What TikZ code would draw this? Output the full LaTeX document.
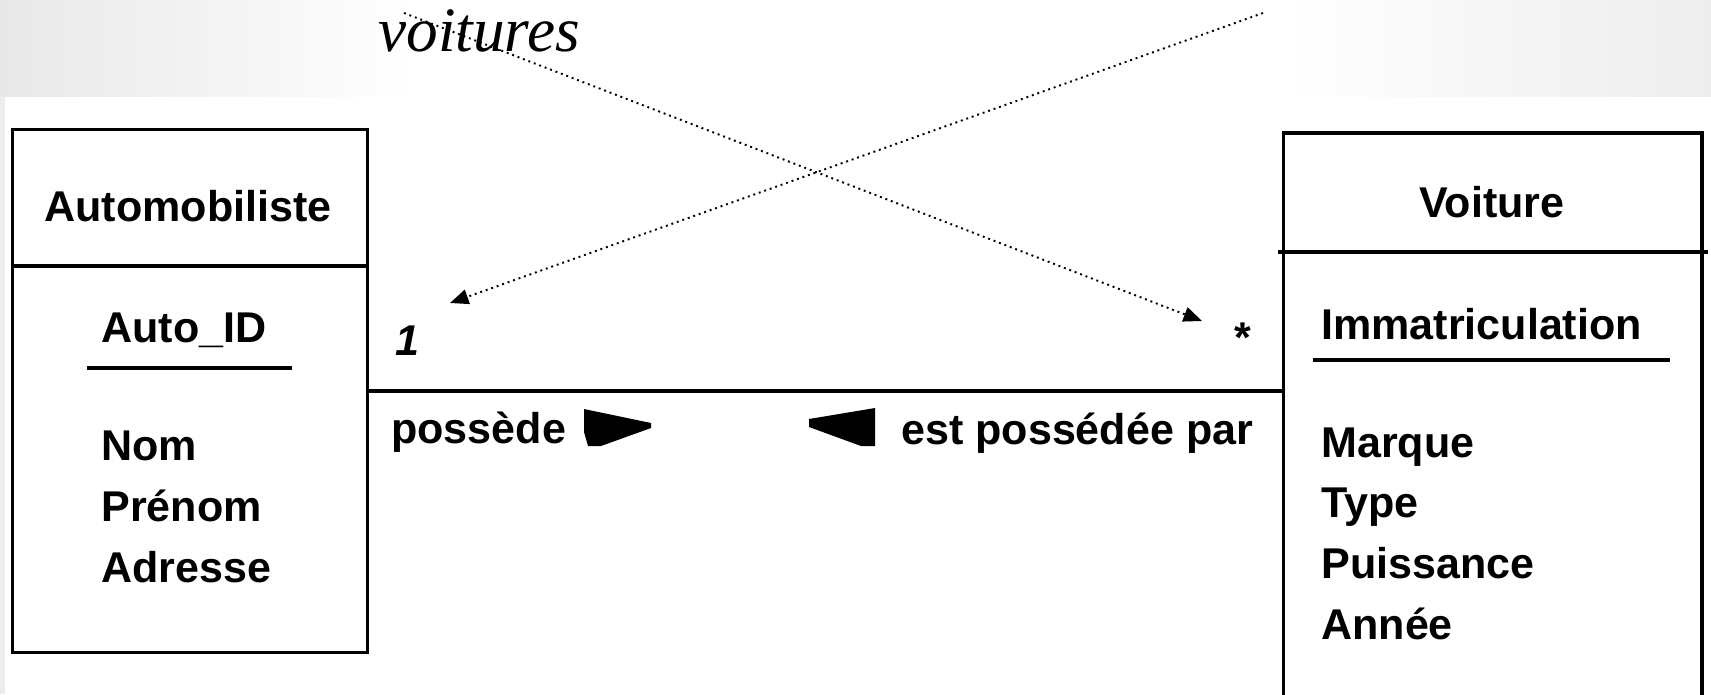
\documentclass[tikz,border=0pt]{standalone}
\usepackage{fontspec}
\setsansfont{Liberation Sans}
\newfontfamily\slidefont{Liberation Serif}
\usetikzlibrary{arrows.meta}

\begin{document}
\begin{tikzpicture}[
  x=0.02cm, y=-0.02cm,
  txt/.style={font=\sffamily\bfseries\fontsize{24.5pt}{29pt}\selectfont, inner sep=0pt},
  attr/.style={txt, anchor=base west},
  classbox/.style={rectangle, draw=black, line width=2.1pt, fill=white, inner sep=0pt},
  assoc/.style={draw=black, line width=2.1pt},
  note/.style={-{Triangle[length=10.5pt,width=8.5pt]}, line width=1.1pt,
               dash pattern=on 1.1pt off 2.2pt}
]
% slide background
\useasboundingbox (0,0) rectangle (1711,694);
\clip (0,0) rectangle (1711,694);
\fill[white] (0,0) rectangle (1711,694);
\shade[left color=black!9, right color=white] (0,0) rectangle (420,96);
\shade[left color=white, right color=black!7] (1280,0) rectangle (1711,96);
\fill[black!7] (0,96) rectangle (5,694);

% classes
\node[classbox, minimum width=7.1cm, minimum height=10.46cm] (auto) at (190,391) {};
\node[classbox, minimum width=8.37cm, minimum height=12.54cm] (voit) at (1492.75,446.5) {};
\draw[assoc] ([yshift=-2.77cm]auto.north west) -- ([yshift=-2.77cm]auto.north east);
\draw[assoc] ([shift={(-0.08cm,-2.42cm)}]voit.north west) -- ([shift={(0.08cm,-2.42cm)}]voit.north east);

% left class
\node[txt, anchor=base] (autot) at (188,221) {Automobiliste};
\node[attr] (autoid) at (101,342) {Auto\_ID};
\draw[line width=2pt] (87,368) -- (292,368);
\foreach \a [count=\i from 0] in {Nom, Prénom, Adresse}
  \node[attr] (auta\i) at (101, 460.5+61*\i) {\a};

% right class
\node[txt, anchor=base] (voitt) at (1492,217) {Voiture};
\node[attr] (immat) at (1321,339) {Immatriculation};
\draw[line width=2pt] (1313,360) -- (1670,360);
\foreach \a [count=\i from 0] in {Marque, Type, Puissance, Année}
  \node[attr] (voita\i) at (1321, 457+60.8*\i) {\a};

% association
\draw[assoc] (auto.east) -- (auto.east -| voit.west);
\node[attr] (mult1) at (395,355) {\itshape 1};
\node[attr] (multn) at (1234,352) {*};
\node[attr] (role1) at (391,443) {possède};
\node[attr] (role2) at (901,444) {est possédée par};
\fill (584,409) -- (651,423) -- (651,428) -- (601,446) -- (588,446) -- (584,432) -- cycle;
\fill (809,419) -- (875,408) -- (875,446) -- (861,446) -- (809,427) -- cycle;

% annotation
\node[font=\slidefont\itshape\fontsize{36pt}{40pt}\selectfont, anchor=base west,
      inner sep=0pt] (lbl) at (378,51) {voitures};
\coordinate (n1s) at (404,13);
\coordinate (n1e) at (1202,321);
\coordinate (n2s) at (1263,13);
\coordinate (n2e) at (450,303);
\draw[note] (n1s) -- (n1e);
\draw[note] (n2s) -- (n2e);
\end{tikzpicture}
\end{document}
